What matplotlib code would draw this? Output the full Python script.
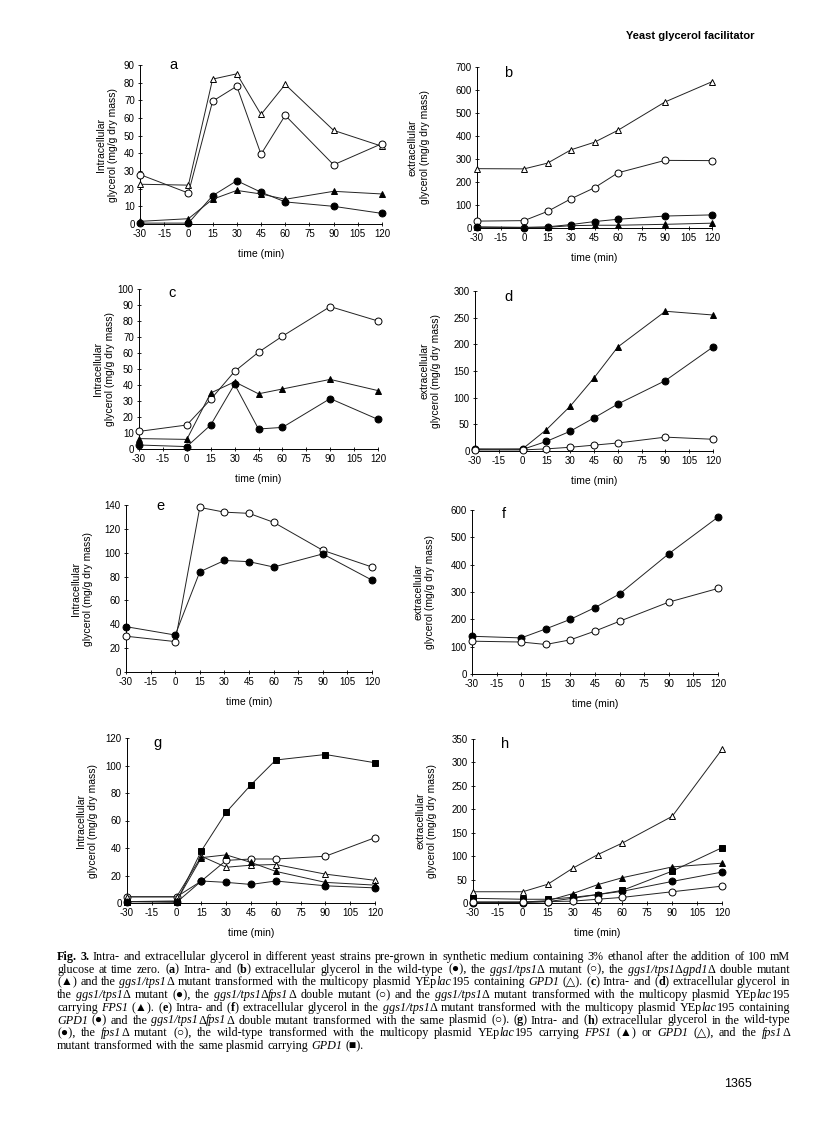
import re
import matplotlib
matplotlib.use('Agg')
import matplotlib.pyplot as plt

plt.rcParams['font.family'] = ['Liberation Sans', 'DejaVu Sans']
plt.rcParams['axes.unicode_minus'] = False

t = [-30, 0, 15, 30, 45, 60, 90, 120]
xticks = [-30, -15, 0, 15, 30, 45, 60, 75, 90, 105, 120]

# panel a - intracellular, wild type / ggs1 series
a_fc = [0.5, 0.5, 16, 24.5, 18, 12.5, 10, 6]
a_oc = [28, 17.5, 69.5, 78, 39.5, 61.5, 33.5, 45.5]
a_ft = [1.5, 3, 14, 19, 17, 14, 18.5, 17]
a_ot = [22.5, 22, 82, 85, 62, 79, 53, 44]

# panel b - extracellular
b_fc = [3, 2, 5, 15, 28, 38, 52, 57]
b_oc = [30, 32, 72, 127, 175, 240, 294, 293]
b_ft = [5, 3, 3, 10, 12, 12, 16, 21]
b_ot = [258, 257, 282, 340, 373, 425, 548, 636]

# panel c
c_fc = [2.5, 1.5, 15, 40.5, 12.5, 13.5, 31.5, 18.5]
c_oc = [11, 15, 31, 48.5, 60.5, 70.5, 89, 80]
c_ft = [6.5, 6, 35, 42, 34.5, 37.5, 43.5, 36.5]

# panel d
d_fc = [4, 3, 18, 37, 62, 88, 132, 195]
d_oc = [2, 2, 4, 7, 11, 15, 26, 22]
d_ft = [3, 4, 40, 84, 137, 195, 262, 255]

# panel e
e_fc = [38, 31, 84, 93.5, 92.5, 88, 99, 77]
e_oc = [30, 25.5, 138, 134, 133, 125.5, 102, 88]

# panel f
f_fc = [138, 132, 165, 200, 243, 293, 440, 574]
f_oc = [120, 117, 108, 125, 157, 193, 263, 313]

# panel g
g_fc = [1, 0.5, 16, 15, 13.5, 16, 12.5, 11]
g_oc = [4.5, 4.5, 16, 31, 32, 32, 34, 47.5]
g_ft = [1, 1.5, 33, 35, 29.5, 23, 15, 13]
g_ot = [4.5, 4.5, 34, 26, 27.5, 28, 21, 16.5]
g_fs = [1, 1, 38, 66, 86, 104, 108, 102]

# panel h
h_fc = [1, 1, 3, 10, 18, 25, 46, 66]
h_oc = [2, 2, 3, 4, 8, 12, 24, 36]
h_ft = [2, 2, 5, 20, 39, 54, 77, 85]
h_ot = [24, 24, 40, 74, 103, 128, 185, 328]
h_fs = [10, 8, 8, 12, 18, 27, 68, 118]

marks = {
    'fc': ('o', 'black'),
    'oc': ('o', 'white'),
    'ft': ('^', 'black'),
    'ot': ('^', 'white'),
    'fs': ('s', 'black'),
}

W, H = 816, 1121
fig = plt.figure(figsize=(W / 100, H / 100), dpi=100)

intra = 'Intracellular\nglycerol (mg/g dry mass)'
extra = 'extracellular\nglycerol (mg/g dry mass)'

# letter, pixel box (left, right, top, bottom), ymax, ystep, ylabel, ylabel offset, letter offset, series
panels = [
    ('a', (140, 382, 65, 224), 90, 10, intra, 22, (33, 0),
     [('ot', a_ot), ('oc', a_oc), ('fc', a_fc), ('ft', a_ft)]),
    ('b', (477, 712, 67, 228), 700, 100, extra, 47, (31, 6),
     [('ot', b_ot), ('oc', b_oc), ('fc', b_fc), ('ft', b_ft)]),
    ('c', (139, 378, 289, 449), 100, 10, intra, 24, (33, 4),
     [('oc', c_oc), ('ft', c_ft), ('fc', c_fc)]),
    ('d', (475, 713, 291, 451), 300, 50, extra, 34, (33, 6),
     [('ft', d_ft), ('fc', d_fc), ('oc', d_oc)]),
    ('e', (126, 372, 505, 672), 140, 20, intra, 33, (34, 1),
     [('oc', e_oc), ('fc', e_fc)]),
    ('f', (472, 718, 510, 674), 600, 100, extra, 37, (32, 4),
     [('fc', f_fc), ('oc', f_oc)]),
    ('g', (127, 375, 738, 903), 120, 20, intra, 29, (31, 5),
     [('fs', g_fs), ('oc', g_oc), ('ot', g_ot), ('ft', g_ft), ('fc', g_fc)]),
    ('h', (473, 722, 739, 903), 350, 50, extra, 36, (32, 5),
     [('ot', h_ot), ('fs', h_fs), ('ft', h_ft), ('fc', h_fc), ('oc', h_oc)]),
]

for letter, (l, r, top, bot), ymax, ystep, ylab, yoff, (ldx, ldy), series in panels:
    ax = fig.add_axes([l / W, 1 - bot / H, (r - l) / W, (bot - top) / H])
    for key, vals in series:
        m, fc = marks[key]
        ax.plot(t, vals, color='#222222', lw=0.7, marker=m, ms=5 if m != 's' else 4.6,
                mfc=fc, mec='black', mew=0.7, clip_on=False, zorder=3)
    ax.set_xlim(-30, 120)
    ax.set_ylim(0, ymax)
    ax.set_xticks(xticks)
    ax.set_yticks(range(0, ymax + 1, ystep))
    for s in ['top', 'right']:
        ax.spines[s].set_visible(False)
    for s in ['left', 'bottom']:
        ax.spines[s].set_linewidth(0.7)
    ax.tick_params(direction='inout', length=3.5, width=0.6, labelsize=7, pad=2)
    ax.set_xlabel('time (min)', fontsize=7.5)
    ax.xaxis.set_label_coords(0.5, -25 / (bot - top))
    ax.set_ylabel(ylab, fontsize=7.5, linespacing=1.25)
    ax.yaxis.set_label_coords(-yoff / (r - l), 0.5)
    ax.annotate(letter, xy=(0, 1), xycoords='axes fraction', xytext=(ldx, -ldy),
                textcoords='offset pixels', fontsize=10.5, ha='center', va='center')

fig.text(755 / W, 1 - 36 / H, 'Yeast glycerol facilitator', ha='right', va='center',
         fontsize=8, weight='bold')
fig.text(738 / W, 1 - 1084 / H, '1365', ha='center', va='center', fontsize=9)

# caption, _x_ = italic, ^x^ = bold
caption = [
    '^Fig.^ ^3.^ Intra- and extracellular glycerol in different yeast strains pre-grown in synthetic medium containing 3% ethanol after the addition of 100 mM',
    'glucose at time zero. (^a^) Intra- and (^b^) extracellular glycerol in the wild-type (●), the _ggs1/tps1_Δ mutant (○), the _ggs1/tps1_Δ_gpd1_Δ double mutant',
    '(▲) and the _ggs1/tps1_Δ mutant transformed with the multicopy plasmid YEp_lac_195 containing _GPD1_ (△). (^c^) Intra- and (^d^) extracellular glycerol in',
    'the _ggs1/tps1_Δ mutant (●), the _ggs1/tps1_Δ_fps1_Δ double mutant (○) and the _ggs1/tps1_Δ mutant transformed with the multicopy plasmid YEp_lac_195',
    'carrying _FPS1_ (▲). (^e^) Intra- and (^f^) extracellular glycerol in the _ggs1/tps1_Δ mutant transformed with the multicopy plasmid YEp_lac_195 containing',
    '_GPD1_ (●) and the _ggs1/tps1_Δ_fps1_Δ double mutant transformed with the same plasmid (○). (^g^) Intra- and (^h^) extracellular glycerol in the wild-type',
    '(●), the _fps1_Δ mutant (○), the wild-type transformed with the multicopy plasmid YEp_lac_195 carrying _FPS1_ (▲) or _GPD1_ (△), and the _fps1_Δ',
    'mutant transformed with the same plasmid carrying _GPD1_ (■).',
]
cap_left, cap_right, cap_top, cap_step = 57, 790, 957, 12.7
serif = ['Liberation Serif', 'DejaVu Sans']

fig.canvas.draw()
renderer = fig.canvas.get_renderer()


def place_caption(size):
    space = size * 100 / 72 * 0.25
    made = []
    lines = []
    for i, line in enumerate(caption):
        y = 1 - (cap_top + i * cap_step) / H
        words = []
        for word in line.split(' '):
            runs = []
            for part in re.split(r'(_[^_]+_|\^[^\^]+\^)', word):
                if not part:
                    continue
                style, weight, txt = 'normal', 'normal', part
                if part.startswith('_'):
                    style, txt = 'italic', part[1:-1]
                elif part.startswith('^'):
                    weight, txt = 'bold', part[1:-1]
                tx = fig.text(0, y, txt, fontsize=size, family=serif, style=style,
                              weight=weight, va='center', ha='left')
                made.append(tx)
                runs.append((tx, tx.get_window_extent(renderer).width))
            words.append(runs)
        lines.append(words)
    # check the longest line still fits with normal spaces
    need = max(sum(w for runs in words for _, w in runs) + space * (len(words) - 1)
               for words in lines)
    if need > cap_right - cap_left:
        for tx in made:
            tx.remove()
        return False
    for i, words in enumerate(lines):
        widths = [sum(w for _, w in runs) for runs in words]
        if i < len(lines) - 1:
            gap = (cap_right - cap_left - sum(widths)) / (len(words) - 1)
        else:
            gap = space
        x = cap_left
        for runs, wsum in zip(words, widths):
            xx = x
            for tx, w in runs:
                tx.set_x(xx / W)
                xx += w
            x += wsum + gap
    return True


size = 8.9
while not place_caption(size):
    size -= 0.1

fig.savefig('out.png', dpi=100)
